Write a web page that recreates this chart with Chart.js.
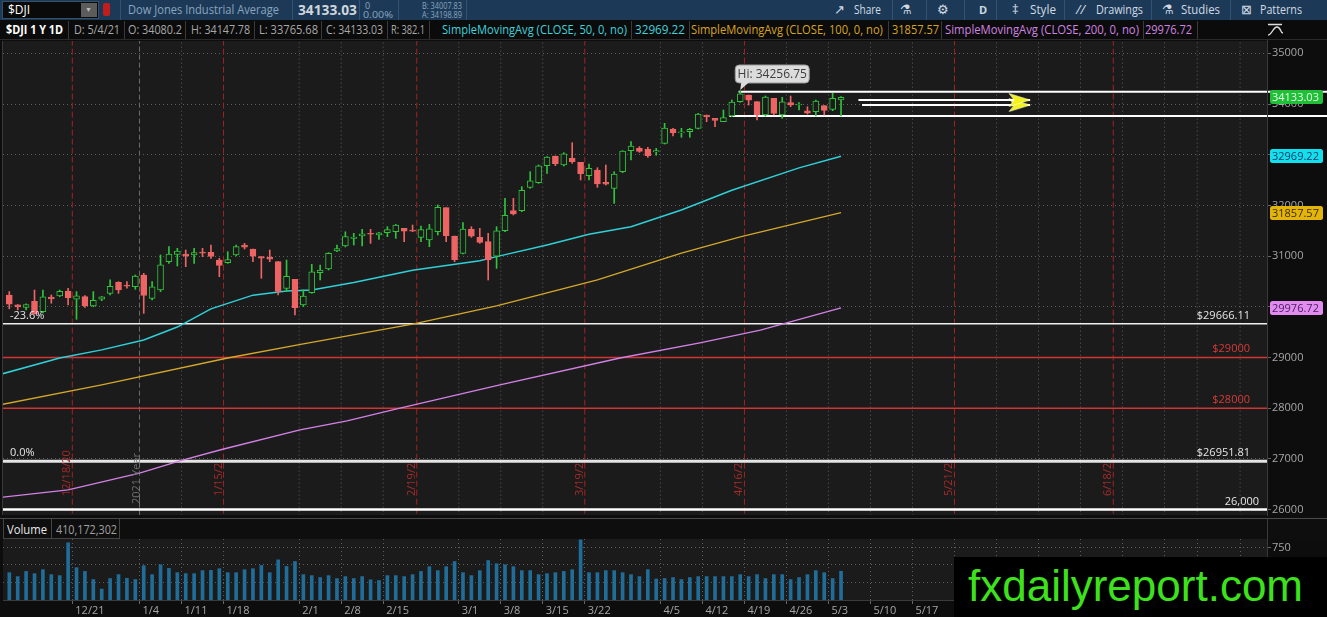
<!DOCTYPE html>
<html>
<head>
<meta charset="utf-8">
<title>$DJI 1 Y 1D</title>
<script src="https://cdn.jsdelivr.net/npm/chart.js@4.4.1/dist/chart.umd.min.js"></script>
<style>
*{box-sizing:border-box}
html,body{margin:0;padding:0;width:1327px;height:617px;overflow:hidden;background:#0d0d0d;font-family:"Open Sans","Noto Sans",sans-serif}
.a{position:absolute;white-space:nowrap;display:inline-block;line-height:1;transform-origin:0 50%}
#bar1{position:absolute;left:0;top:0;width:1327px;height:20px;background:#1c3a58}
#bar2{position:absolute;left:0;top:20px;width:1327px;height:20px;background:#0b0b0b;border-bottom:1px solid #2a2a2a}
.s1{position:absolute;top:0;width:1px;height:20px;background:#2f5475}
.s2{position:absolute;top:1px;width:1px;height:18px;background:#3a3a3a}
canvas{position:absolute;left:0}
#price{top:40px}
#vol{top:539px}
#volhdr{position:absolute;left:0;top:516px;width:1327px;height:23px;background:#0e0e0e}
#fx{position:absolute;left:954px;top:557px;width:373px;height:60px;background:#000;color:#3de21c;font-family:"Liberation Sans",Arial,sans-serif;font-size:44px;line-height:58px;padding-left:14px;white-space:nowrap}
.w{color:#d2dae2;font-size:12px;top:4px}
.g{color:#a8a8a8;font-size:12px;top:4px}
</style>
</head>
<body>
<div id="bar1">
  <div style="position:absolute;left:2px;top:1px;width:97px;height:18px;background:#0a0a0a;border:1px solid #35506b"></div>
  <span class="a" style="left:8px;top:4px;color:#fff;font-size:12px">$DJI</span>
  <div style="position:absolute;left:81px;top:3px;width:16px;height:14px;background:#5c5c5c"></div>
  <span class="a" style="left:85px;top:6px;color:#bbb;font-size:7px">▼</span>
  <div style="position:absolute;left:103px;top:3px;width:7px;height:13px;background:#c21d1d;border-radius:2px"></div>
  <div class="s1" style="left:120px"></div>
  <span class="a" data-w="151" style="left:128px;top:4px;color:#8aa5bf;font-size:12px">Dow Jones Industrial Average</span>
  <div class="s1" style="left:292px"></div>
  <span class="a" data-w="59" style="left:298px;top:2px;color:#d0d6dc;font-size:15px;font-weight:bold">34133.03</span>
  <div class="s1" style="left:359px"></div>
  <span class="a" style="left:365px;top:1px;color:#8aa5bf;font-size:9px">0</span>
  <span class="a" data-w="30" style="left:363px;top:10px;color:#8aa5bf;font-size:9px">0.00%</span>
  <div class="s1" style="left:398px"></div>
  <span class="a" data-w="40" style="left:422px;top:1px;color:#8aa5bf;font-size:9px">B: 34007.83</span>
  <span class="a" data-w="40" style="left:422px;top:10px;color:#8aa5bf;font-size:9px">A: 34198.89</span>
  <div class="s1" style="left:466px"></div>

  <span class="a w" style="left:834px;top:3px;font-size:13px">↗</span>
  <span class="a w" data-w="27" style="left:854px">Share</span>
  <div class="s1" style="left:892px"></div>
  <span class="a w" style="left:900px;top:3px;font-size:13px">⚗</span>
  <div class="s1" style="left:926px"></div>
  <span class="a w" style="left:937px;top:3px;font-size:13px">⚙</span>
  <div class="s1" style="left:964px"></div>
  <span class="a w" style="left:979px;font-size:11px;font-weight:bold">D</span>
  <div class="s1" style="left:996px"></div>
  <span class="a w" style="left:1012px;top:3px;font-size:13px">‡</span>
  <span class="a w" data-w="26" style="left:1030px">Style</span>
  <div class="s1" style="left:1064px"></div>
  <span class="a w" style="left:1076px;top:3px;font-size:13px;font-style:italic">//</span>
  <span class="a w" data-w="47" style="left:1096px">Drawings</span>
  <div class="s1" style="left:1151px"></div>
  <span class="a w" style="left:1162px;top:3px;font-size:13px">⚗</span>
  <span class="a w" data-w="39" style="left:1181px">Studies</span>
  <div class="s1" style="left:1230px"></div>
  <span class="a w" style="left:1241px;top:3px;font-size:13px">⊠</span>
  <span class="a w" data-w="42" style="left:1260px">Patterns</span>
</div>
<div id="bar2">
  <span class="a" data-w="57" style="left:6px;top:4px;color:#fff;font-size:12px;font-weight:bold">$DJI 1 Y 1D</span>
  <div class="s2" style="left:68px"></div>
  <span class="a g" data-w="46" style="left:74px">D: 5/4/21</span>
  <div class="s2" style="left:124px"></div>
  <span class="a g" data-w="54" style="left:128px">O: 34080.2</span>
  <div class="s2" style="left:185px"></div>
  <span class="a g" data-w="59" style="left:191px">H: 34147.78</span>
  <div class="s2" style="left:254px"></div>
  <span class="a g" data-w="59" style="left:259px">L: 33765.68</span>
  <div class="s2" style="left:321px"></div>
  <span class="a g" data-w="57" style="left:326px">C: 34133.03</span>
  <div class="s2" style="left:387px"></div>
  <span class="a g" data-w="34" style="left:391px">R: 382.1</span>
  <div class="s2" style="left:429px"></div>
  <span class="a g" data-w="185" style="left:442px;color:#3fd2dc">SimpleMovingAvg (CLOSE, 50, 0, no)</span>
  <div class="s2" style="left:631px"></div>
  <span class="a g" data-w="50" style="left:635px;color:#3fd2dc">32969.22</span>
  <div class="s2" style="left:689px"></div>
  <span class="a g" data-w="192" style="left:691px;color:#d8a520">SimpleMovingAvg (CLOSE, 100, 0, no)</span>
  <div class="s2" style="left:888px"></div>
  <span class="a g" data-w="47" style="left:892px;color:#d8a520">31857.57</span>
  <div class="s2" style="left:941px"></div>
  <span class="a g" data-w="194" style="left:945px;color:#cf83e2">SimpleMovingAvg (CLOSE, 200, 0, no)</span>
  <div class="s2" style="left:1143px"></div>
  <span class="a g" data-w="47" style="left:1145px;color:#cf83e2">29976.72</span>
  <div class="s2" style="left:1197px"></div>
  <svg style="position:absolute;left:1266px;top:3px" width="20" height="14"><path d="M2 1.5h14M2 12c4 0 5-8 9-8s3 6 6 6" stroke="#ddd" fill="none" stroke-width="1.4"/></svg>
</div>
<canvas id="price" width="1327" height="476"></canvas>
<div id="volhdr">
  <div style="position:absolute;left:0;top:2px;width:1327px;height:1px;background:#4a4a4a"></div>
  <div style="position:absolute;left:1267px;top:3px;width:1px;height:20px;background:#3a3a3a"></div>
  <div style="position:absolute;left:3px;top:3px;width:49px;height:20px;border:1px solid #444;border-top:none"></div>
  <div style="position:absolute;left:51px;top:3px;width:69px;height:20px;border:1px solid #444;border-top:none;border-left:none"></div>
  <span class="a" data-w="40" style="left:7px;top:8px;color:#e8e8e8;font-size:12px">Volume</span>
  <span class="a" data-w="61" style="left:56px;top:8px;color:#a0a0a0;font-size:12px">410,172,302</span>
</div>
<canvas id="vol" width="1327" height="78"></canvas>
<div id="fx">fxdailyreport.com</div>

<script>
// ---------- DATA ----------
const dates = ['12/9','12/10','12/11','12/14','12/15','12/16','12/17','12/18','12/21','12/22','12/23','12/24','12/28','12/29','12/30','12/31',
'1/4','1/5','1/6','1/7','1/8','1/11','1/12','1/13','1/14','1/15','1/19','1/20','1/21','1/22','1/25','1/26','1/27','1/28','1/29',
'2/1','2/2','2/3','2/4','2/5','2/8','2/9','2/10','2/11','2/12','2/16','2/17','2/18','2/19','2/22','2/23','2/24','2/25','2/26',
'3/1','3/2','3/3','3/4','3/5','3/8','3/9','3/10','3/11','3/12','3/15','3/16','3/17','3/18','3/19','3/22','3/23','3/24','3/25','3/26','3/29','3/30','3/31',
'4/1','4/5','4/6','4/7','4/8','4/9','4/12','4/13','4/14','4/15','4/16','4/19','4/20','4/21','4/22','4/23','4/26','4/27','4/28','4/29','4/30','5/3','5/4'];

const opens = [30230,30040,29990,30110,29904,30190,30213,30312,30150,30200,
30016,30150,30266,30483,30430,30397,30627,30167,30331,30890,
31035,31042,31022,31081,31075,30923,30871,31022,31219,31140,
30989,30976,30890,30364,30542,30036,30279,30673,30746,31101,
31199,31350,31400,31449,31416,31462,31482,31547,31515,31370,
31317,31482,31955,31396,31054,31528,31370,31285,30997,31502,
31896,31896,32356,32448,32784,32974,32797,32928,32849,32586,
32698,32455,32336,32665,33080,33126,33106,33054,33224,33507,
33431,33454,33520,33783,33717,33651,33763,34046,34178,34046,
33783,34112,33783,34026,33980,33868,33849,33967,33895,34080.2];

const highs = [30300,30045,30060,30330,30330,30233,30330,30365,30300,30220,
30300,30205,30530,30496,30496,30627,30660,30496,31022,31186,
31153,31120,31153,31153,31219,30956,31087,31219,31252,31140,
30989,31120,30890,30923,30542,30332,30838,30825,31068,31219,
31480,31449,31528,31528,31470,31580,31626,31547,31613,31593,
31626,32008,31955,31396,31659,31580,31547,31449,31580,32139,
32139,32369,32665,32797,32961,32974,33040,33237,32849,32816,
32744,32797,32665,33080,33257,33159,33145,33126,33619,33520,
33520,33520,33816,33783,33717,33882,34079,34256.75,34178,34046,
34158,34112,34132,34158,34026,33947,34079,33967,34210,34147.78];

const lows = [29960,29940,29940,29858,29880,30070,30200,30036,29753,29990,
30000,30121,30233,30266,30365,30345,29871,30134,30299,30858,
30805,30792,30857,30990,30956,30594,30857,31002,31140,30890,
30562,30890,30233,30299,29838,30003,30266,30529,30726,31088,
31180,31219,31199,31252,31330,31383,31350,31284,31482,31284,
31186,31416,31284,30890,31041,31370,31252,30528,30758,31482,
31811,31876,32337,32435,32632,32784,32777,32830,32501,32501,
32356,32402,32041,32645,32895,33047,32948,32990,33211,33369,
33343,33343,33507,33651,33553,33651,33750,34033,33980,33684,
33763,33783,33717,33947,33882,33803,33763,33783,33868,33765.68];

const closes = [30050,29999,30046,29861,30199,30154,30303,30179,30216,30015,
30129,30199,30403,30335,30409,30606,30223,30392,30829,31041,
31098,30998,31068,31060,30992,30814,30930,31188,31176,30997,
30960,30937,30303,30603,29983,30212,30688,30724,31056,31148,
31386,31375,31438,31431,31458,31523,31613,31494,31494,31522,
31537,31962,31402,30932,31535,31391,31270,30924,31496,31802,
31832,32297,32485,32779,32953,32825,33015,32862,32628,32731,
32423,32420,32619,33072,33171,33066,32981,33080,33527,33430,
33446,33503,33801,33745,33677,33730,34036,34200,34078,33790,
34137,33815,34043,33981,33985,33820,34060,33875,34113,34133.03];

// volume in millions
const volumes = [390,334,408,376,433,362,348,816,461,408,
292,156,306,362,310,292,489,362,503,451,
390,376,376,419,423,447,390,390,433,447,
493,390,573,479,549,362,348,320,348,306,
334,306,334,288,278,348,348,334,362,408,
475,419,475,549,390,348,419,563,517,503,
475,419,419,362,376,390,408,433,858,390,
390,419,419,390,362,334,433,300,306,320,
292,320,334,334,334,334,334,362,334,362,
306,362,362,292,320,362,419,390,306,410.17];

// moving averages read at sample positions (bar index, value)
const sma50Idx = [-1,6,11,16,20,24,29,33,36,41,48,56,58,64,69,74,80,86,94,99];
const sma50Val = [28670,28990,29150,29345,29600,29960,30230,30310,30330,30480,30720,30910,30990,31220,31430,31580,31910,32300,32740,32969.22];
const sma100Idx = [-1,11,26,35,48,58,70,80,87,99];
const sma100Val = [28070,28460,28990,29270,29660,30020,30530,31060,31380,31857.57];
const sma200Idx = [-1,7,15.5,20.3,25.4,34.6,40.2,46.5,58.4,72.7,82.2,89.4,99];
const sma200Val = [26240,26390,26720,26960,27190,27570,27750,28000,28460,28990,29290,29540,29976.72];

// price axis ticks
const priceTicks = [26000,27000,28000,29000,30000,31000,32000,33000,34000,35000];
const volTicks = [250,500,750];

// horizontal levels
const levelValues = [29666.11, 29000, 28000, 26951.81, 26000];
const levelLabels = ['$29666.11','$29000','$28000','$26951.81','26,000'];
const fibLabels   = ['-23.6%','','','0.0%',''];
const rangeValues = [34243, 33762];
const rangeStartIdx = [86.8, 85.7];
const arrowValues = [34079, 33980];
const arrowStartIdx = [101.07, 101.5];
const arrowEndIdx = 121.5;
const hiIdx = 87, hiValue = 34256.75, hiLabel = 'Hi: 34256.75';
const lastTags = [34133.03, 32969.22, 31857.57, 29976.72];

// vertical markers (bar index positions)
const expiryIdx = [7.5, 25.5, 48.5, 68.5, 87.5, 112.5, 131.4];
const expiryLabels = ['12/18/20','1/15/2','2/19/2','3/19/2','4/16/2','5/21/2','6/18/2'];
const yearIdx = 15.5, yearLabel = '2021 Year';
const weekGridIdx = [20.5,34.5,39.5,44.5,53.5,58.5,63.5,77.5,82.5,92.5,97.5,102.5,107.5,117.5,122.5,127.5,132.5,137.5,141.4,146.5];
const xTickIdx = [7.5,15.5,20.5,25.5,34.5,39.5,44.5,53.5,58.5,63.5,68.5,77.5,82.5,87.5,92.5,97.5,102.5,107.5,112.5,117.5,122.5,127.5,132.5,137.5,141.4,146.5];
const xTickLabels = ['12/21','1/4','1/11','1/18','2/1','2/8','2/15','3/1','3/8','3/15','3/22','4/5','4/12','4/19','4/26','5/3','5/10','5/17','5/24','6/1','6/7','6/14','6/21','6/28','7/1','7/6'];

// ---------- STYLE ----------
const xMin = -0.75, xMax = 149.7;
const CANVAS_TOP = 40;
const UP = '#2fc43c', DN = '#ee6464', PLOT_BG = '#1b1b1b', OUT_BG = '#0d0d0d';
const GRID = 'rgba(140,140,140,0.6)';
const FONT = '"Open Sans","Noto Sans",sans-serif';
const levelColors = ['#efefef','#d03434','#d03434','#e4e4e4','#ffffff'];
const levelWidths = [1.5,1.4,1.4,3,2.5];
const levelLabelColors = ['#e6e6e6','#d83a3a','#d83a3a','#e6e6e6','#e6e6e6'];
const levelLabelInset = [17,17,17,17,8];
const tagBg = ['#1fbf38','#13e0ec','#e3b50a','#e28cf2'];
const tagFg = ['#e6ffe6','#0b3d6b','#3b2b00','#4a2060'];

const isUp = i => closes[i] >= opens[i];
const vline = arr => arr.flatMap(v => [{x:v,y:0},{x:v,y:60000},{x:v,y:null}]);
const pts = (ix, vals) => ix.map((x,i)=>({x, y:vals[i]}));

function arrowCanvas(){
  const cv = document.createElement('canvas'); cv.width = 44; cv.height = 14;
  const g = cv.getContext('2d');
  g.fillStyle = '#f2f21a';
  g.beginPath(); g.moveTo(22,7); g.lineTo(1,0.5); g.lineTo(6,7); g.lineTo(1,13.5); g.closePath(); g.fill();
  g.strokeStyle = 'rgba(255,255,255,0.7)'; g.lineWidth = 0.8; g.stroke();
  return cv;
}
const arrowImg = arrowCanvas();

function rr(ctx,x,y,w,h,r){ctx.beginPath();ctx.moveTo(x+r,y);ctx.lineTo(x+w-r,y);ctx.quadraticCurveTo(x+w,y,x+w,y+r);ctx.lineTo(x+w,y+h-r);ctx.quadraticCurveTo(x+w,y+h,x+w-r,y+h);ctx.lineTo(x+r,y+h);ctx.quadraticCurveTo(x,y+h,x,y+h-r);ctx.lineTo(x,y+r);ctx.quadraticCurveTo(x,y,x+r,y);ctx.closePath();}

const priceDeco = {
  id:'priceDeco',
  beforeDraw(c){
    const {ctx, chartArea:a} = c;
    ctx.save();
    ctx.fillStyle = OUT_BG; ctx.fillRect(0,0,c.width,c.height);
    ctx.fillStyle = PLOT_BG; ctx.fillRect(a.left,a.top,a.right-a.left,a.bottom-a.top);
    ctx.restore();
  },
  afterDatasetsDraw(c){
    const {ctx, chartArea:a, scales:{x:xs, y:ys}} = c;
    ctx.save();
    ctx.font = '11px ' + FONT;
    ctx.textBaseline = 'alphabetic';
    levelValues.forEach((v,i)=>{
      const y = ys.getPixelForValue(v);
      ctx.fillStyle = levelLabelColors[i];
      ctx.textAlign = 'right';
      ctx.fillText(levelLabels[i], a.right - levelLabelInset[i], y - 5);
      if (fibLabels[i]) { ctx.textAlign = 'left'; ctx.fillStyle = '#e6e6e6'; ctx.fillText(fibLabels[i], 10, y - 5); }
    });
    // rotated date labels
    ctx.textAlign = 'left';
    const labelBottom = 496 - CANVAS_TOP;
    expiryIdx.forEach((v,i)=>{
      const x = xs.getPixelForValue(v);
      ctx.save(); ctx.translate(x - 2, labelBottom); ctx.rotate(-Math.PI/2);
      ctx.fillStyle = '#a82a2a'; ctx.fillText(expiryLabels[i], 0, 0); ctx.restore();
    });
    {
      const x = xs.getPixelForValue(yearIdx);
      ctx.save(); ctx.translate(x + 0.5, labelBottom + 8); ctx.rotate(-Math.PI/2);
      ctx.fillStyle = '#707070'; ctx.fillText(yearLabel, 0, 0); ctx.restore();
    }
    // Hi callout
    {
      const x = xs.getPixelForValue(hiIdx), y = ys.getPixelForValue(hiValue);
      const bx = x - 5, by = y - 26, bw = 74, bh = 18;
      ctx.fillStyle = '#dcdcdc'; ctx.strokeStyle = '#9a9a9a'; ctx.lineWidth = 1;
      rr(ctx,bx,by,bw,bh,4); ctx.fill(); ctx.stroke();
      ctx.beginPath(); ctx.moveTo(x+1,by+bh-1); ctx.lineTo(x+9,by+bh-1); ctx.lineTo(x,y-1); ctx.closePath();
      ctx.fill();
      ctx.fillStyle = '#3d3d3d'; ctx.font = '12px ' + FONT; ctx.textAlign = 'center'; ctx.textBaseline = 'middle';
      ctx.fillText(hiLabel, bx + bw/2, by + bh/2 + 0.5);
    }
    ctx.restore();
  },
  afterDraw(c){
    const {ctx, chartArea:a, scales:{y:ys}} = c;
    ctx.save();
    ctx.strokeStyle = '#3a3a3a'; ctx.lineWidth = 1;
    ctx.beginPath(); ctx.moveTo(a.right+0.5,0); ctx.lineTo(a.right+0.5,c.height); ctx.stroke();
    ctx.beginPath(); ctx.moveTo(a.left-0.5,a.top); ctx.lineTo(a.left-0.5,a.bottom); ctx.stroke();
    ctx.font = '11px ' + FONT; ctx.textAlign = 'left'; ctx.textBaseline = 'middle';
    lastTags.forEach((v,i)=>{
      const y = Math.round(ys.getPixelForValue(v));
      ctx.fillStyle = tagBg[i]; rr(ctx, a.right+3, y-7, 53, 14, 2.5); ctx.fill();
      ctx.fillStyle = tagFg[i]; ctx.fillText(v.toFixed(2), a.right+5, y+0.5);
    });
    ctx.restore();
  }
};

const volDeco = {
  id:'volDeco',
  beforeDraw(c){
    const {ctx, chartArea:a} = c;
    ctx.save();
    ctx.fillStyle = OUT_BG; ctx.fillRect(0,0,c.width,c.height);
    ctx.fillStyle = PLOT_BG; ctx.fillRect(a.left,a.top,a.right-a.left,a.bottom-a.top);
    ctx.restore();
  },
  afterDraw(c){
    const {ctx, chartArea:a} = c;
    ctx.save(); ctx.strokeStyle = '#3a3a3a'; ctx.lineWidth = 1;
    ctx.beginPath(); ctx.moveTo(a.right+0.5,0); ctx.lineTo(a.right+0.5,c.height); ctx.stroke();
    ctx.beginPath(); ctx.moveTo(a.left,a.bottom+0.5); ctx.lineTo(a.right,a.bottom+0.5); ctx.stroke();
    ctx.restore();
  }
};

const lineBase = {type:'line', pointRadius:0, fill:false, tension:0};

const priceDatasets = [
  {...lineBase, data:vline(weekGridIdx), borderColor:GRID, borderWidth:1, borderDash:[1,3], order:30},
  {...lineBase, data:vline([yearIdx]), borderColor:'#6c6c6c', borderWidth:1, borderDash:[5,3], order:29},
  {...lineBase, data:vline(expiryIdx), borderColor:'#a02424', borderWidth:1, borderDash:[6,3], order:28},
  ...levelValues.map((v,i)=>({...lineBase, data:[{x:-5,y:v},{x:160,y:v}], borderColor:levelColors[i], borderWidth:levelWidths[i], order:20})),
  {...lineBase, data:pts(sma200Idx,sma200Val), borderColor:'#d381e6', borderWidth:1.3, order:15},
  {...lineBase, data:pts(sma100Idx,sma100Val), borderColor:'#d4a82a', borderWidth:1.3, order:15},
  {...lineBase, data:pts(sma50Idx,sma50Val), borderColor:'#2fd0d8', borderWidth:1.5, order:15},
  ...rangeValues.map((v,i)=>({...lineBase, data:[{x:rangeStartIdx[i],y:v},{x:175,y:v}], borderColor:'#ffffff', borderWidth:2, clip:false, order:12})),
  {type:'bar', data:dates.map((d,i)=>({x:i,y:[lows[i],highs[i]]})), backgroundColor:dates.map((d,i)=>isUp(i)?UP:DN), barThickness:1, grouped:false, borderSkipped:false, order:10},
  {type:'bar', data:dates.map((d,i)=>({x:i,y:[opens[i],closes[i]]})), backgroundColor:dates.map((d,i)=>isUp(i)?PLOT_BG:DN), borderColor:dates.map((d,i)=>isUp(i)?UP:DN), borderWidth:1, borderSkipped:false, barThickness:6, minBarLength:1, grouped:false, order:9},
  ...arrowValues.map((v,i)=>({...lineBase, data:[{x:arrowStartIdx[i],y:v},{x:arrowEndIdx,y:v}], borderColor:'#ffffff', borderWidth:2,
     pointRadius:ctx=>ctx.dataIndex===1?6:0, pointStyle:ctx=>ctx.dataIndex===1?arrowImg:'circle', order:5}))
];

const common = {
  responsive:false, animation:false, events:[],
  plugins:{legend:{display:false}, tooltip:{enabled:false}}
};

new Chart(document.getElementById('price'), {
  type:'bar',
  data:{datasets:priceDatasets},
  options:{...common,
    layout:{padding:{left:3,right:0,top:1,bottom:1}, autoPadding:false},
    scales:{
      x:{type:'linear', min:xMin, max:xMax, display:false, offset:false, grid:{display:false, offset:false}},
      y:{type:'linear', position:'right', min:25893, max:35243, beginAtZero:false,
         afterBuildTicks(s){ s.ticks = priceTicks.map(v=>({value:v})); },
         ticks:{autoSkip:false, color:'#a6a6a6', font:{family:FONT, size:11}, padding:1, callback:v=>String(v)},
         grid:{color:GRID, lineWidth:1, drawTicks:true, tickLength:4, tickColor:'#666', tickBorderDash:[]},
         border:{display:false, dash:[1,3]},
         afterFit(s){ s.width = 60; s.paddingTop = 0; s.paddingBottom = 0; }
      }
    }
  },
  plugins:[priceDeco]
});

new Chart(document.getElementById('vol'), {
  type:'bar',
  data:{datasets:[{data:dates.map((d,i)=>({x:i,y:volumes[i]})), backgroundColor:'#1f6d98', barThickness:3, grouped:false}]},
  options:{...common,
    layout:{padding:{left:3,right:0,top:0,bottom:0}, autoPadding:false},
    scales:{
      x:{type:'linear', min:xMin, max:xMax, offset:false,
         afterBuildTicks(s){ s.ticks = xTickIdx.map(v=>({value:v})); },
         ticks:{autoSkip:false, maxRotation:0, minRotation:0, align:'start', labelOffset:3, color:'#a6a6a6', font:{family:FONT, size:11}, padding:0,
                callback:(v,i)=>xTickLabels[i]},
         grid:{color:GRID, drawTicks:true, tickLength:4, tickColor:'#666', offset:false, tickBorderDash:[]},
         border:{display:false, dash:[1,3]},
         afterFit(s){ s.height = 17; s.paddingLeft = 0; s.paddingRight = 0; }
      },
      y:{type:'linear', position:'right', min:0, max:870,
         afterBuildTicks(s){ s.ticks = volTicks.map(v=>({value:v})); },
         ticks:{autoSkip:false, color:'#a6a6a6', font:{family:FONT, size:11}, padding:1, callback:v=>String(v)},
         grid:{color:GRID, drawTicks:true, tickLength:4, tickColor:'#666', tickBorderDash:[]},
         border:{display:false, dash:[1,3]},
         afterFit(s){ s.width = 60; s.paddingTop = 0; s.paddingBottom = 0; }
      }
    }
  },
  plugins:[volDeco]
});

function fitText(){
  document.querySelectorAll('[data-w]').forEach(el=>{
    el.style.transform = 'none';
    const w = +el.dataset.w, a = el.getBoundingClientRect().width;
    if (a > 0) el.style.transform = 'scaleX(' + (w/a).toFixed(3) + ')';
  });
}
fitText();
if (document.fonts && document.fonts.ready) document.fonts.ready.then(fitText);
</script>
</body>
</html>
